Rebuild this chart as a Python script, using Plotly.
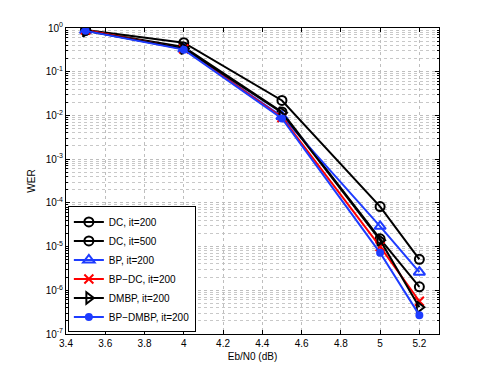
import numpy as np
import plotly.graph_objects as go

# Eb/N0 points (dB)
snr = [3.5, 4.0, 4.5, 5.0, 5.2]

# WER per decoder
dc_200 = [0.90, 0.46, 0.022, 8.2e-5, 5.1e-6]
dc_500 = [0.88, 0.37, 0.012, 1.5e-5, 1.2e-6]
bp_200 = [0.88, 0.33, 0.0095, 2.9e-5, 2.6e-6]
bpdc_200 = [0.90, 0.33, 0.0090, 1.0e-5, 5.6e-7]
dmbp_200 = [0.86, 0.34, 0.0115, 1.4e-5, 4.1e-7]
bpdmbp_200 = [0.86, 0.32, 0.0085, 7.2e-6, 2.7e-7]

y_exps = [0, -1, -2, -3, -4, -5, -6, -7]
x_ticks = [3.4, 3.6, 3.8, 4.0, 4.2, 4.4, 4.6, 4.8, 5.0, 5.2]

BLUE = "rgb(30,60,255)"
RED = "rgb(255,0,0)"
BLACK = "rgb(0,0,0)"

series = [
    ("DC, it=200", dc_200, BLACK, dict(symbol="circle-open", size=9)),
    ("DC, it=500", dc_500, BLACK, dict(symbol="circle-open", size=9)),
    ("BP, it=200", bp_200, BLUE, dict(symbol="triangle-up-open", size=10)),
    ("BP\u2212DC, it=200", bpdc_200, RED, dict(symbol="x-thin-open", size=9)),
    ("DMBP, it=200", dmbp_200, BLACK, dict(symbol="triangle-right-open", size=10)),
    ("BP\u2212DMBP, it=200", bpdmbp_200, BLUE, dict(symbol="circle", size=6)),
]

fig = go.Figure()
for name, vals, color, mk in series:
    fig.add_trace(go.Scatter(
        x=snr, y=vals, name=name, mode="lines+markers",
        line=dict(color=color, width=2),
        marker=dict(color=color, line=dict(color=color, width=2), **mk),
    ))

minor_vals = [k * 10.0 ** e for e in range(-7, 0) for k in range(2, 10)]

# page body adds a small offset, so margins are trimmed to land the axes right
fig.update_layout(
    width=485, height=377,
    margin=dict(l=58, r=54, t=20, b=51),
    paper_bgcolor="white", plot_bgcolor="white",
    font=dict(family="Liberation Sans, Arial, sans-serif", size=10, color="black"),
    showlegend=True,
    legend=dict(x=0.005, y=0.005, xanchor="left", yanchor="bottom",
                bgcolor="white", bordercolor="black", borderwidth=1,
                font=dict(size=10), tracegroupgap=0, itemwidth=30),
)
fig.update_xaxes(
    range=[3.4, 5.3], tickvals=x_ticks, ticktext=[f"{v:g}" for v in x_ticks],
    ticks="inside", ticklen=4, tickcolor="black", automargin=False,
    showline=True, linecolor="black", linewidth=1, mirror="ticks",
    showgrid=True, gridcolor="rgb(190,190,190)", griddash="dot", gridwidth=1,
    zeroline=False,
    title=dict(text="Eb/N0 (dB)", standoff=4, font=dict(size=10)),
)
fig.update_yaxes(
    type="log", range=[-7, 0], automargin=False,
    tickvals=[10.0 ** e for e in y_exps],
    ticktext=[f"10<sup>{e}</sup>" for e in y_exps],
    ticks="inside", ticklen=4, tickcolor="black",
    showline=True, linecolor="black", linewidth=1, mirror="ticks",
    showgrid=True, gridcolor="rgb(190,190,190)", griddash="dot", gridwidth=1,
    minor=dict(tickmode="array", tickvals=minor_vals, ticks="inside", ticklen=2,
               tickcolor="black", showgrid=True, gridcolor="rgb(200,200,200)",
               griddash="dot"),
    zeroline=False,
    title=dict(text="WER", standoff=8, font=dict(size=10)),
)

fig.write_html("out.html")
